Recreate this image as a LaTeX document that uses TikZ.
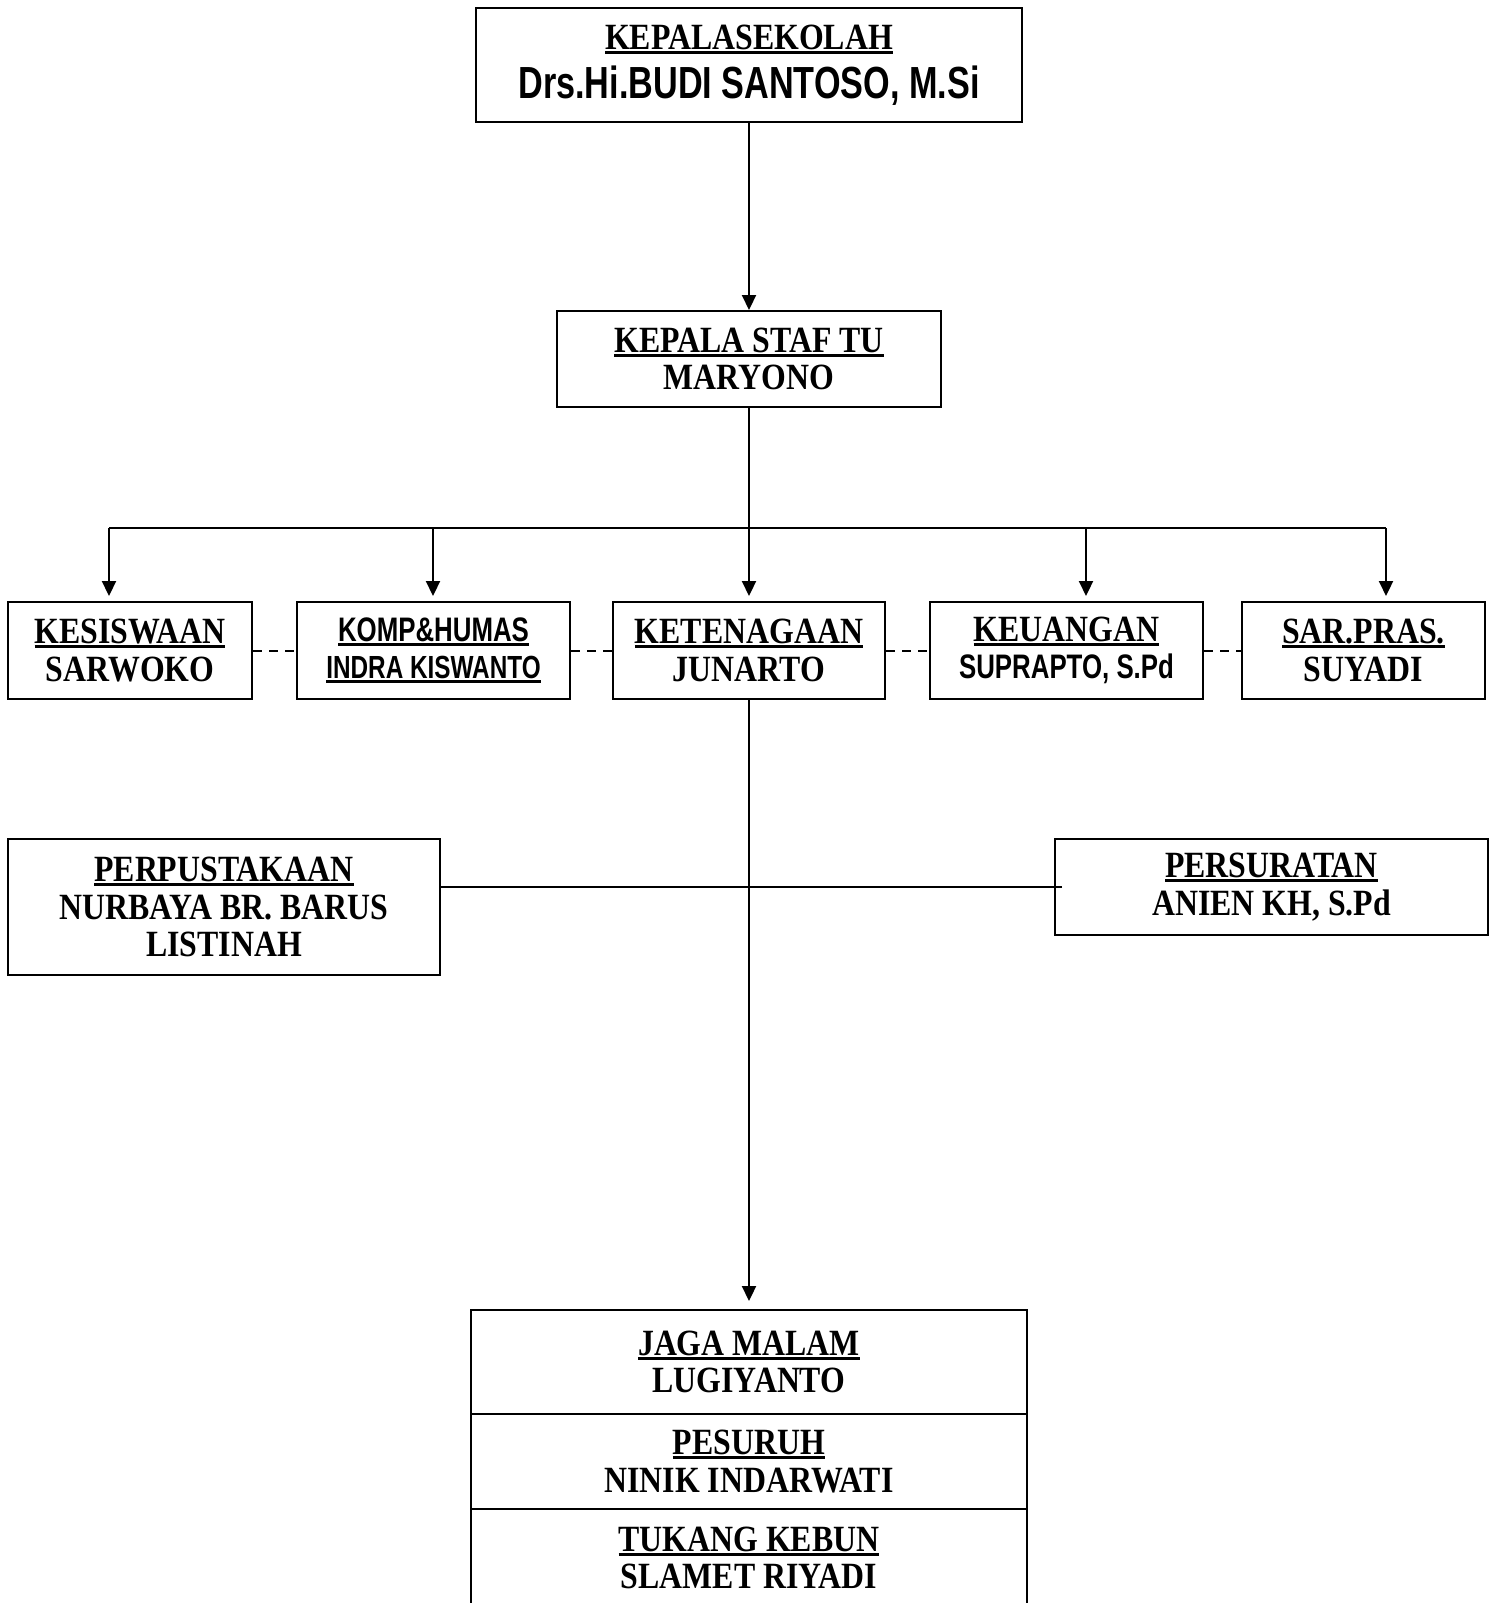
\documentclass[tikz,border=0pt]{standalone}
\usepackage{fontspec}
\usetikzlibrary{arrows.meta}
\newfontfamily\serifb[FakeStretch=0.86]{Liberation Serif}
\newfontfamily\sansn[FakeStretch=0.76]{Liberation Sans}
\newsavebox\jbox
\newcommand{\jabatan}[1]{\sbox\jbox{#1}\rlap{\rule[-4.5pt]{\wd\jbox}{3pt}}\usebox\jbox}
\newcommand{\sansbesar}{\sansn\bfseries\fontsize{45}{48}\selectfont}
\newcommand{\sanskecil}[1]{\sansn\bfseries\fontsize{#1}{38}\selectfont}

\tikzset{
  kotak/.style={draw, line width=2pt, align=center, inner sep=0pt,
    font=\serifb\bfseries\fontsize{37}{37.5}\selectfont},
  garis/.style={line width=2.2pt},
  panah/.style={line width=2.2pt, -{Triangle[length=15pt,width=14pt]}},
  putus/.style={line width=2pt, dash pattern=on 9pt off 7pt}
}

\begin{document}
\begin{tikzpicture}[x=1pt,y=-1pt]
    \useasboundingbox (0,0) rectangle (1498,1603);

    \node[kotak, minimum width=546pt, minimum height=114pt] at (749,65)    (kepsek)  {\jabatan{KEPALASEKOLAH}\\[11pt]\sansbesar Drs.Hi.BUDI SANTOSO, M.Si};
    \node[kotak, minimum width=384pt, minimum height=96pt]  at (749,359)   (staf)    {\jabatan{KEPALA STAF TU}\\MARYONO};

    \node[kotak, minimum width=244pt, minimum height=97pt]  at (130,650.5)    (siswa)   {\jabatan{KESISWAAN}\\SARWOKO};
    \node[kotak, minimum width=273pt, minimum height=97pt]  at (433.5,650.5)  (humas)   {\sanskecil{34}\jabatan{KOMP\&HUMAS}\\\sanskecil{32}\jabatan{INDRA KISWANTO}};
    \node[kotak, minimum width=272pt, minimum height=97pt]  at (749,650.5)    (tenaga)  {\jabatan{KETENAGAAN}\\JUNARTO};
    \node[kotak, minimum width=273pt, minimum height=97pt]  at (1066.5,650.5) (uang)    {\jabatan{KEUANGAN}\\\sanskecil{34}SUPRAPTO, S.Pd};
    \node[kotak, minimum width=243pt, minimum height=97pt]  at (1363.5,650.5) (sarpras) {\jabatan{SAR.PRAS.}\\SUYADI};

    \node[kotak, minimum width=432pt, minimum height=136pt] at (224,907)    (perpus)   {\jabatan{PERPUSTAKAAN}\\NURBAYA BR. BARUS\\LISTINAH};
    \node[kotak, minimum width=433pt, minimum height=96pt]  at (1271.5,887) (persurat) {\jabatan{PERSURATAN}\\ANIEN KH, S.Pd};

    \node[kotak, minimum width=556pt, minimum height=104pt] at (749,1362)   (jaga)    {\jabatan{JAGA MALAM}\\LUGIYANTO};
    \node[kotak, minimum width=556pt, minimum height=95pt]  at (749,1461.5) (suruh)   {\jabatan{PESURUH}\\NINIK INDARWATI};
    \node[kotak, minimum width=556pt, minimum height=98pt]  at (749,1558)   (kebun)   {\jabatan{TUKANG KEBUN}\\SLAMET RIYADI};

    \coordinate (c1) at (109,528);
    \coordinate (c2) at (433,528);
    \coordinate (c3) at (749,528);
    \coordinate (c4) at (1086,528);
    \coordinate (c5) at (1386,528);

    \draw[panah] (kepsek) -- (staf);
    \draw[garis] (staf.south) -- (c3);
    \draw[garis] (c1) -- (c5);
    \draw[panah, shorten >=5pt] (c1) -- (c1 |- siswa.north);
    \draw[panah, shorten >=5pt] (c2) -- (c2 |- humas.north);
    \draw[panah, shorten >=5pt] (c3) -- (c3 |- tenaga.north);
    \draw[panah, shorten >=5pt] (c4) -- (c4 |- uang.north);
    \draw[panah, shorten >=5pt] (c5) -- (c5 |- sarpras.north);

    \draw[putus] (siswa.east) -- (humas.west);
    \draw[putus] (humas.east) -- (tenaga.west);
    \draw[putus] (tenaga.east) -- (uang.west);
    \draw[putus] (uang.east) -- (sarpras.west);

    \draw[panah, shorten >=8pt] (tenaga) -- (jaga);
    \draw[garis] ([xshift=8pt]persurat.west) -- (persurat.west -| perpus.east);
\end{tikzpicture}
\end{document}
